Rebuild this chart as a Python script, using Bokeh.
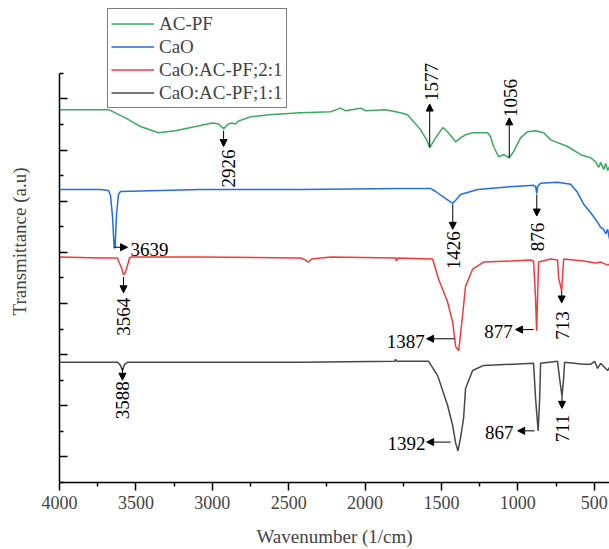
import math
from bokeh.plotting import figure
from bokeh.models import Range1d, FixedTicker, Label, Arrow, NormalHead, Legend, LegendItem, CustomJSTickFormatter
from bokeh.embed import file_html
from bokeh.resources import INLINE

# ---- data (wavenumber, transmittance a.u.) ----
wn_acpf = [4000, 3862, 3679, 3568, 3470, 3352, 3241, 3110, 2998, 2959,
           2926, 2894, 2874, 2848, 2828, 2750, 2632, 2422, 2226, 2160,
           2128, 2029, 1997, 1866, 1768, 1722, 1637, 1597, 1577, 1538,
           1492, 1473, 1427, 1407, 1375, 1342, 1296, 1244, 1198, 1178,
           1159, 1126, 1093, 1056, 1028, 982, 936, 884, 831, 785,
           674, 589, 524, 491, 471, 458, 438, 425, 412, 400]
t_acpf = [6.79, 6.79, 6.79, 6.63, 6.46, 6.34, 6.38, 6.46, 6.53, 6.51,
          6.42, 6.51, 6.53, 6.51, 6.57, 6.65, 6.69, 6.73, 6.75, 6.82,
          6.77, 6.82, 6.77, 6.79, 6.73, 6.69, 6.40, 6.20, 6.05, 6.24,
          6.44, 6.40, 6.24, 6.16, 6.24, 6.30, 6.34, 6.34, 6.34, 6.26,
          6.07, 5.87, 5.91, 5.85, 5.97, 6.24, 6.36, 6.38, 6.34, 6.20,
          6.07, 5.91, 5.85, 5.77, 5.66, 5.76, 5.62, 5.74, 5.60, 5.68]

wn_cao = [4000, 3732, 3679, 3666, 3653, 3642, 3636, 3627, 3614, 3601,
          3077, 2422, 1768, 1571, 1538, 1486, 1426, 1407, 1375, 1263,
          1028, 897, 884, 876, 871, 851, 740, 654, 609, 569,
          524, 478, 458, 438, 425, 412, 400]
t_cao = [5.23, 5.23, 5.21, 5.11, 4.70, 4.08, 4.10, 4.75, 5.13, 5.19,
         5.23, 5.23, 5.25, 5.25, 5.19, 5.08, 4.96, 5.02, 5.13, 5.23,
         5.29, 5.31, 5.29, 5.15, 5.29, 5.35, 5.37, 5.33, 5.17, 4.94,
         4.78, 4.59, 4.49, 4.45, 4.36, 4.45, 4.26]

wn_21 = [4000, 3732, 3620, 3614, 3594, 3581, 3571, 3561, 3542, 3529,
         3077, 2422, 2389, 2370, 2350, 2226, 1800, 1794, 1787, 1558,
         1519, 1460, 1427, 1407, 1387, 1375, 1362, 1342, 1296, 1224,
         1047, 916, 897, 884, 877, 871, 864, 785, 740, 733,
         713, 706, 700, 569, 491, 458, 412, 400]
t_21 = [3.91, 3.89, 3.89, 3.83, 3.70, 3.56, 3.60, 3.68, 3.89, 3.91,
        3.91, 3.89, 3.85, 3.81, 3.87, 3.91, 3.89, 3.83, 3.89, 3.87,
        3.48, 3.03, 2.64, 2.16, 2.08, 2.41, 2.76, 3.34, 3.67, 3.81,
        3.83, 3.85, 3.83, 3.10, 2.47, 3.10, 3.81, 3.87, 3.85, 3.50,
        3.25, 3.60, 3.87, 3.83, 3.79, 3.81, 3.75, 3.77]

wn_11 = [4000, 3732, 3620, 3601, 3588, 3574, 3555, 3077, 2422, 1807,
         1800, 1794, 1584, 1525, 1460, 1427, 1407, 1392, 1375, 1355,
         1342, 1296, 1224, 897, 884, 867, 857, 851, 740, 727,
         711, 700, 694, 569, 524, 497, 478, 458, 438, 412, 400]
t_11 = [1.85, 1.85, 1.85, 1.79, 1.69, 1.81, 1.85, 1.85, 1.85, 1.87,
        1.91, 1.87, 1.87, 1.59, 1.01, 0.62, 0.27, 0.12, 0.37, 0.76,
        1.34, 1.69, 1.79, 1.83, 1.15, 0.51, 1.15, 1.83, 1.87, 1.54,
        1.19, 1.54, 1.85, 1.81, 1.81, 1.87, 1.73, 1.83, 1.77, 1.69, 1.75]

series_names = ["AC-PF", "CaO", "CaO:AC-PF;2:1", "CaO:AC-PF;1:1"]
series_colors = ["#3BAA5E", "#1F6FE5", "#F23A3A", "#484848"]

x_major = [4000, 3500, 3000, 2500, 2000, 1500, 1000, 500]
x_minor = [3750, 3250, 2750, 2250, 1750, 1250, 750]
y_major = [0, 1, 2, 3, 4, 5, 6, 7]
y_minor = [-0.5, 0.5, 1.5, 2.5, 3.5, 4.5, 5.5, 6.5, 7.5]

# vertical peak markers: label, arrow x, arrow start y, arrow end y, text x, text y
v_peaks = [
    ("2926", 2926, 6.38, 6.07, 2894, 5.64),
    ("1577", 1577, 6.05, 6.90, 1565, 7.33),
    ("1056", 1056, 5.85, 6.63, 1047, 7.02),
    ("1426", 1426, 4.94, 4.45, 1420, 4.04),
    ("876", 876, 5.13, 4.71, 871, 4.30),
    ("3564", 3581, 3.52, 3.21, 3581, 2.74),
    ("713", 713, 3.25, 3.01, 707, 2.57),
    ("711", 711, 1.19, 0.95, 707, 0.56),
    ("3588", 3588, 1.74, 1.50, 3588, 1.11),
]
# horizontal peak markers: label, y, arrow start x, arrow end x, text x, text y, align
h_peaks = [
    ("3639", 4.10, 3642, 3555, 3535, 4.06, "left"),
    ("1387", 2.31, 1414, 1597, 1610, 2.26, "right"),
    ("877", 2.49, 897, 1015, 1034, 2.45, "right"),
    ("1392", 0.29, 1440, 1597, 1604, 0.27, "right"),
    ("867", 0.51, 890, 1001, 1028, 0.47, "right"),
]

FONT = "Liberation Serif"
FS = "19px"
FS_TICK = "18px"

p = figure(width=609, height=549, output_backend="svg", toolbar_location=None,
           x_range=Range1d(4000, 400), y_range=Range1d(-0.5, 8.925),
           min_border_left=59, min_border_right=0, min_border_top=0, min_border_bottom=64)
p.outline_line_color = None
p.xgrid.visible = False
p.ygrid.visible = False

# axes
xa = p.xaxis[0]
xa.ticker = FixedTicker(ticks=x_major, minor_ticks=x_minor)
xa.axis_label = "Wavenumber (1/cm)"
xa.axis_label_text_font = FONT
xa.axis_label_text_font_size = FS
xa.axis_label_text_font_style = "normal"
xa.axis_label_standoff = 14
xa.major_label_text_font = FONT
xa.major_label_text_font_size = FS_TICK
xa.major_label_standoff = 5
xa.major_tick_in = 0
xa.major_tick_out = 8
xa.minor_tick_in = 0
xa.minor_tick_out = 4
xa.axis_line_width = 1.5
xa.major_tick_line_width = 1.5
xa.minor_tick_line_width = 1.5

ya = p.yaxis[0]
ya.ticker = FixedTicker(ticks=y_major, minor_ticks=y_minor)
ya.bounds = (y_minor[0], y_minor[-1])
ya.formatter = CustomJSTickFormatter(code="return ''")
ya.axis_label = "Transmittance (a.u)"
ya.axis_label_text_font = FONT
ya.axis_label_text_font_size = FS
ya.axis_label_text_font_style = "normal"
ya.axis_label_standoff = 30
ya.major_label_standoff = 0
ya.major_tick_in = 8
ya.major_tick_out = 0
ya.minor_tick_in = 4
ya.minor_tick_out = 0
ya.axis_line_width = 1.5
ya.major_tick_line_width = 1.5
ya.minor_tick_line_width = 1.5

# spectra
renderers = []
for xs, ys, c in [(wn_acpf, t_acpf, series_colors[0]), (wn_cao, t_cao, series_colors[1]),
                  (wn_21, t_21, series_colors[2]), (wn_11, t_11, series_colors[3])]:
    renderers.append(p.line(xs, ys, line_color=c, line_width=1.5))

# peak annotations
for txt, x, y0, y1, tx, ty in v_peaks:
    p.add_layout(Arrow(end=NormalHead(size=7, fill_color="black", line_color="black", line_width=1),
                       x_start=x, y_start=y0, x_end=x, y_end=y1, line_width=1, line_color="black"))
    p.add_layout(Label(x=tx, y=ty, text=txt, angle=math.pi / 2, text_align="center",
                       text_baseline="middle", text_font=FONT, text_font_size=FS, text_color="black"))
for txt, y, x0, x1, tx, ty, al in h_peaks:
    p.add_layout(Arrow(end=NormalHead(size=7, fill_color="black", line_color="black", line_width=1),
                       x_start=x0, y_start=y, x_end=x1, y_end=y, line_width=1, line_color="black"))
    p.add_layout(Label(x=tx, y=ty, text=txt, text_align=al, text_baseline="middle",
                       text_font=FONT, text_font_size=FS, text_color="black"))

legend = Legend(items=[LegendItem(label=n, renderers=[r]) for n, r in zip(series_names, renderers)],
                location=(48, 374), orientation="vertical",
                label_text_font=FONT, label_text_font_size=FS,
                glyph_width=43, glyph_height=23, label_height=23, label_standoff=5,
                spacing=0, padding=3, margin=0,
                border_line_color="black", border_line_width=1,
                background_fill_color="white", background_fill_alpha=1)
p.add_layout(legend)

open("out.html", "w").write(file_html(p, INLINE))
